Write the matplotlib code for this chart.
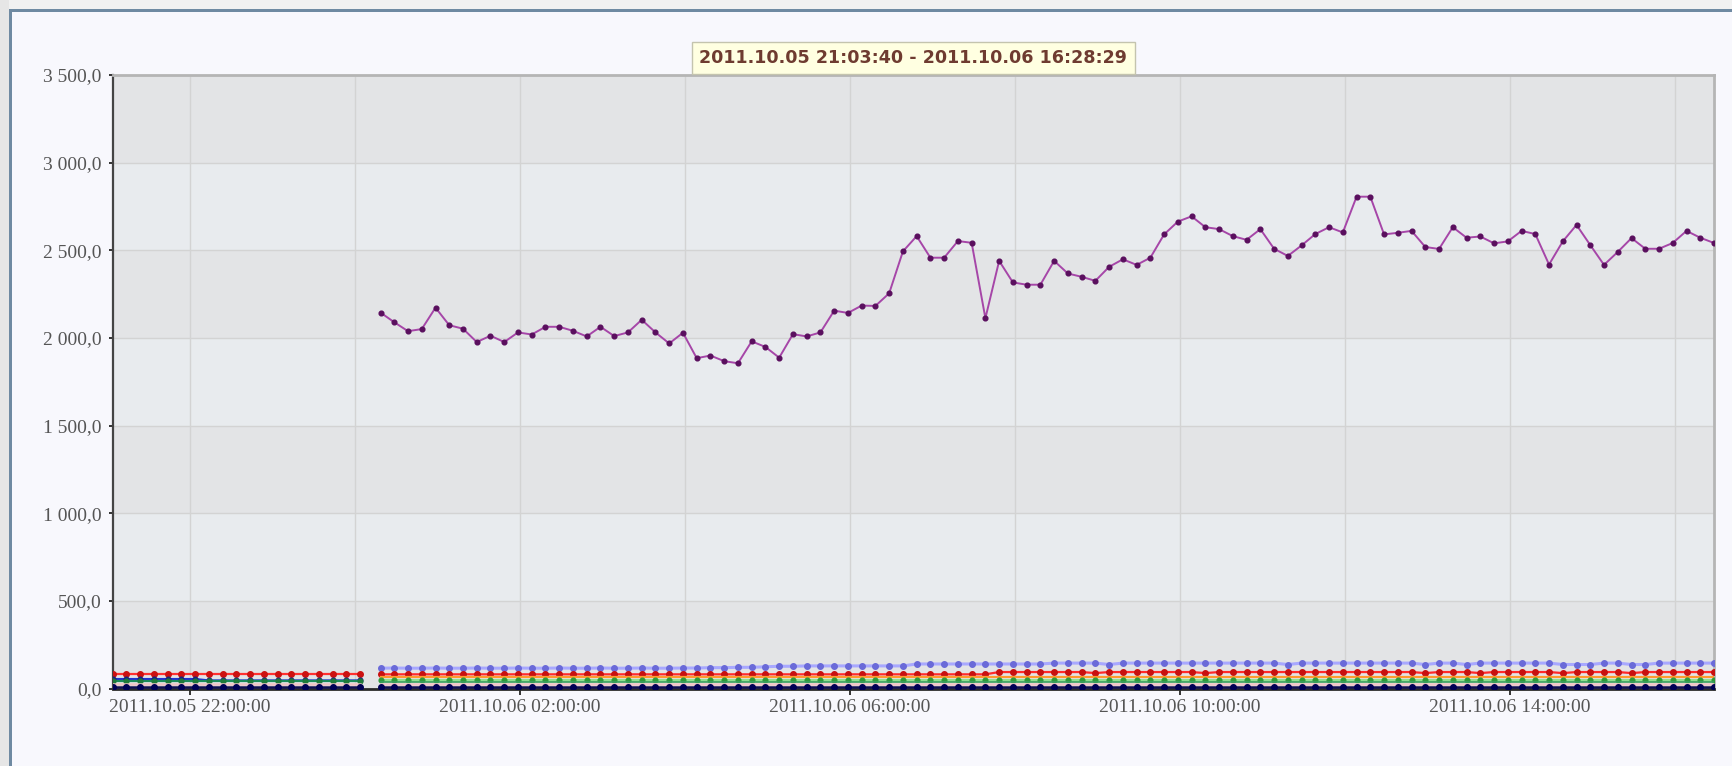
from datetime import datetime, timedelta
import matplotlib
matplotlib.use('Agg')
import matplotlib.pyplot as plt
import matplotlib.dates as mdates
from matplotlib.ticker import FuncFormatter, MultipleLocator
from matplotlib.patches import Rectangle

T_FROM = datetime(2011, 10, 5, 21, 3, 40)
T_TO = datetime(2011, 10, 6, 16, 28, 29)
SEG1_START = datetime(2011, 10, 5, 21, 3, 40)
SEG2_START = datetime(2011, 10, 6, 0, 18, 29)
STEP_MIN = 10

# --- first segment (21:03 .. 00:03), 19 samples
seg1_red = [86] * 19
seg1_blue = [55, 55, 55, 55, 55, 55, 55, 47, 47, 47, 47, 47, 47, 47, 47, 47, 47, 47, 47]
seg1_green = [45] * 19
seg1_pink = [28] * 19
seg1_navy = [8] * 19

# --- second segment (00:18 .. 16:28), 98 samples
purple = [2145, 2090, 2039, 2051, 2173, 2073, 2053, 1977, 2013, 1977,
          2032, 2020, 2064, 2064, 2041, 2009, 2064, 2011, 2032, 2104,
          2032, 1969, 2030, 1885, 1900, 1868, 1856, 1981, 1949, 1888,
          2022, 2009, 2032, 2156, 2143, 2185, 2183, 2255, 2494, 2581,
          2458, 2458, 2553, 2543, 2113, 2440, 2317, 2304, 2304, 2440,
          2368, 2349, 2326, 2406, 2449, 2417, 2458, 2591, 2664, 2694,
          2632, 2621, 2581, 2560, 2621, 2509, 2468, 2528, 2593, 2632,
          2602, 2806, 2806, 2591, 2600, 2611, 2519, 2508, 2632, 2572,
          2579, 2540, 2551, 2611, 2593, 2419, 2551, 2645, 2530, 2417,
          2491, 2570, 2509, 2509, 2542, 2611, 2572, 2542]
lightblue = [117, 118, 117, 117, 118, 117, 117, 118, 117, 117,
             118, 117, 117, 118, 117, 117, 118, 117, 117, 118,
             117, 117, 118, 118, 120, 120, 122, 122, 125, 128,
             128, 130, 130, 130, 130, 130, 130, 130, 130, 141,
             141, 141, 141, 141, 141, 141, 141, 141, 141, 146,
             146, 146, 146, 138, 146, 146, 146, 146, 146, 146,
             146, 146, 146, 146, 146, 146, 138, 146, 146, 146,
             146, 146, 146, 146, 146, 146, 138, 146, 146, 138,
             146, 146, 146, 146, 146, 146, 138, 138, 138, 146,
             146, 138, 138, 146, 146, 146, 146, 146]
red = [82] * 45 + [95, 95, 95, 95, 95, 95, 95, 89, 95, 95,
                   95, 95, 95, 95, 95, 89, 95, 95, 95, 95,
                   95, 95, 95, 95, 95, 95, 95, 95, 95, 95,
                   95, 89, 95, 95, 95, 89, 95, 95, 95, 95,
                   95, 89, 95, 95, 95, 95, 89, 95, 95, 95,
                   95, 95, 95]
orange = [68] * 98
lightgreen = [50] * 98
green = [36] * 98
pink = [25] * 98
navy = [9] * 98

Y_TICKS = [0, 500, 1000, 1500, 2000, 2500, 3000, 3500]
TOOLTIP = '2011.10.05 21:03:40 - 2011.10.06 16:28:29'

t1 = [SEG1_START + timedelta(minutes=STEP_MIN * i) for i in range(len(seg1_red))]
t2 = [SEG2_START + timedelta(minutes=STEP_MIN * i) for i in range(len(purple))]

fig = plt.figure(figsize=(17.32, 7.66), dpi=100, facecolor='#f8f8fd')

# page chrome: grey strips and steel-blue frame lines
fig.patches.append(Rectangle((0, 1 - 9 / 766), 1, 9 / 766, transform=fig.transFigure,
                             fc='#f1f1f1', ec='none', zorder=0))
fig.patches.append(Rectangle((0, 0), 9 / 1732, 1, transform=fig.transFigure,
                             fc='#e6e6e6', ec='none', zorder=0))
fig.patches.append(Rectangle((9 / 1732, 1 - 12 / 766), 1, 3 / 766, transform=fig.transFigure,
                             fc='#6f8aa2', ec='none', zorder=1))
fig.patches.append(Rectangle((9 / 1732, 0), 3 / 1732, 1 - 9 / 766, transform=fig.transFigure,
                             fc='#6f8aa2', ec='none', zorder=1))

ax = fig.add_axes([112.7 / 1732, 77.3 / 766, (1714 - 112.7) / 1732, (691 - 77.3) / 766])
ax.set_facecolor('#e8ebee')

for i in range(len(Y_TICKS) - 1):
    c = '#e3e4e6' if i % 2 == 0 else '#e8ebee'
    ax.axhspan(Y_TICKS[i], Y_TICKS[i + 1], color=c, lw=0, zorder=0)

# first segment
ax.plot(t1, seg1_red, color='#ff3030', lw=1.6, marker='o', ms=4, mfc='#cc1111', mec='#cc1111', zorder=3)
ax.plot(t1, seg1_blue, color='#2030d0', lw=1.6, marker='o', ms=3.4, mfc='#1a237e', mec='#1a237e', zorder=3)
ax.plot(t1, seg1_green, color='#1a8a5a', lw=1.6, marker='o', ms=3.4, mfc='#1f7a3a', mec='#1f7a3a', zorder=3)
ax.plot(t1, seg1_pink, color='#f0c4c4', lw=1.8, zorder=3)
ax.plot(t1, seg1_navy, color='#101050', lw=1.8, marker='o', ms=4, mfc='#000055', mec='#000055', zorder=4)

# second segment
ax.plot(t2, lightblue, color='#a8a8ff', lw=2.2, marker='o', ms=4, mfc='#6a6ad8', mec='#6a6ad8', zorder=3)
ax.plot(t2, red, color='#ff2a2a', lw=1.6, marker='o', ms=4, mfc='#c81010', mec='#c81010', zorder=3)
ax.plot(t2, orange, color='#ff9a30', lw=1.6, zorder=3)
ax.plot(t2, lightgreen, color='#8fe08f', lw=2.2, marker='o', ms=3.4, mfc='#2e9a3a', mec='#2e9a3a', zorder=3)
ax.plot(t2, green, color='#3aa060', lw=1.2, zorder=3)
ax.plot(t2, pink, color='#f2c6c6', lw=1.8, zorder=3)
ax.plot(t2, navy, color='#101050', lw=1.8, marker='o', ms=4, mfc='#000055', mec='#000055', zorder=4)

ax.plot(t2, purple, color='#a646a8', lw=1.4, marker='o', ms=3.4, mfc='#5a0f5e', mec='#5a0f5e', zorder=5)

ax.set_xlim(T_FROM, T_TO)
ax.set_ylim(Y_TICKS[0], Y_TICKS[-1])
ax.yaxis.set_major_locator(MultipleLocator(500))
ax.yaxis.set_major_formatter(FuncFormatter(
    lambda v, p: f'{v:,.1f}'.replace(',', ' ').replace('.', ',')))
ax.xaxis.set_major_locator(mdates.HourLocator(byhour=[2, 6, 10, 14, 22]))
ax.xaxis.set_minor_locator(mdates.HourLocator(byhour=range(0, 24, 2)))
ax.xaxis.set_major_formatter(mdates.DateFormatter('%Y.%m.%d %H:%M:%S'))

ax.grid(True, which='both', axis='x', color='#d3d3d3', lw=1.0, zorder=1)
ax.grid(True, which='major', axis='y', color='#d3d3d3', lw=1.0, zorder=1)
ax.set_axisbelow(True)

for lab in ax.get_xticklabels() + ax.get_yticklabels():
    lab.set_family('Liberation Serif')
ax.tick_params(axis='x', which='major', length=4.5, width=1.4, color='#333333',
               labelsize=14, labelcolor='#555555', pad=3)
ax.tick_params(axis='x', which='minor', length=0)
ax.tick_params(axis='y', length=3, width=1.4, color='#333333',
               labelsize=14, labelcolor='#555555', pad=5)

ax.spines['left'].set_color('#444444')
ax.spines['left'].set_linewidth(1.6)
ax.spines['bottom'].set_color('#2a2a2a')
ax.spines['bottom'].set_linewidth(2.0)
for s in ('top', 'right'):
    ax.spines[s].set_color('#b5b5b5')
    ax.spines[s].set_linewidth(2.0)

fig.text(913.4 / 1732, 1 - 58 / 766, TOOLTIP, ha='center', va='center',
         fontsize=12.6, fontweight='bold', color='#6e3b30', family='DejaVu Sans',
         bbox=dict(boxstyle='square,pad=0.42', fc='#ffffe1', ec='#c4c4ae', lw=1.0))

fig.savefig('out.png', dpi=100, facecolor=fig.get_facecolor())
